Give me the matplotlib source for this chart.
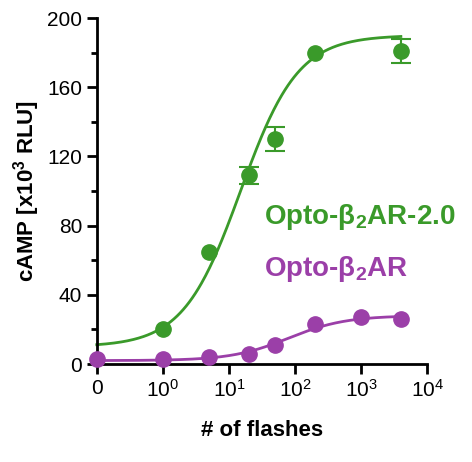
import numpy as np
import matplotlib
matplotlib.use("Agg")
import matplotlib.pyplot as plt
from matplotlib.ticker import FixedLocator

plt.rcParams['font.family'] = ['Liberation Sans', 'DejaVu Sans']
plt.rcParams['mathtext.fontset'] = 'custom'
plt.rcParams['mathtext.rm'] = 'Liberation Sans'
plt.rcParams['mathtext.bf'] = 'Liberation Sans:bold'

# "0 flashes" is drawn at the 10^-1 position
zero_pos = 0.1
green_x = [1, 5, 20, 50, 200, 4000]
green_y = [20, 65, 109, 130, 180, 181]
green_err = [0, 0, 5, 7, 0, 7]
purple_x = [zero_pos, 1, 5, 20, 50, 200, 1000, 4000]
purple_y = [3, 3, 4, 6, 11, 23, 27, 26]
purple_err = [0, 0, 0, 0, 0, 0, 0, 0]
# fitted curve params: bottom, top, EC50, hill
green_fit = (10, 190, 15, 1.0)
purple_fit = (2, 28, 80, 1.0)

GREEN = '#3a9a2a'
PURPLE = '#9b3fa8'

fig = plt.figure(figsize=(4.72, 4.62), dpi=100)
ax = fig.add_axes([0.205, 0.212, 0.70, 0.749])

def fit(x, p):
    b, t, ec, h = p
    return b + (t - b) / (1 + (ec / x) ** h)

xs = np.logspace(-1, np.log10(4000), 300)
for xd, yd, ed, p, c in [(green_x, green_y, green_err, green_fit, GREEN),
                         (purple_x, purple_y, purple_err, purple_fit, PURPLE)]:
    ax.plot(xs, fit(xs, p), color=c, lw=2, clip_on=False)
    ax.plot(xd, yd, 'o', color=c, ms=11, clip_on=False, zorder=3)
    ex = [x for x, e in zip(xd, ed) if e > 0]
    if ex:
        ax.errorbar(ex, [y for y, e in zip(yd, ed) if e > 0],
                    yerr=[e for e in ed if e > 0], fmt='none', ecolor=c,
                    capsize=7, elinewidth=1.5, capthick=1.5, clip_on=False, zorder=3)

ax.set_xscale('log')
ax.set_xlim(0.1, 10000)
ax.set_ylim(0, 200)
ax.xaxis.set_major_locator(FixedLocator([0.1, 1, 10, 100, 1000, 10000]))
ax.set_xticklabels(['0', '$\\mathregular{10^0}$', '$\\mathregular{10^1}$',
                    '$\\mathregular{10^2}$', '$\\mathregular{10^3}$', '$\\mathregular{10^4}$'])
ax.xaxis.set_minor_locator(FixedLocator([]))
ax.set_yticks([0, 40, 80, 120, 160, 200])
ax.set_yticks(np.arange(20, 200, 40), minor=True)
for s in ['top', 'right']:
    ax.spines[s].set_visible(False)
for s in ['left', 'bottom']:
    ax.spines[s].set_linewidth(2)
ax.tick_params(which='major', width=2, length=7, labelsize=15)
ax.tick_params(which='minor', width=2, length=4)
ax.set_xlabel('# of flashes', fontsize=16, fontweight='bold', labelpad=14)
ax.set_ylabel('cAMP [x10$^\\mathregular{3}$ RLU]', fontsize=16, fontweight='bold')

ax.text(0.505, 0.425, r'Opto-β$\mathbf{_2}$AR-2.0', transform=ax.transAxes,
        color=GREEN, fontsize=20, fontweight='bold', va='center')
ax.text(0.505, 0.275, r'Opto-β$\mathbf{_2}$AR', transform=ax.transAxes,
        color=PURPLE, fontsize=20, fontweight='bold', va='center')

fig.savefig('out.png', dpi=100)
